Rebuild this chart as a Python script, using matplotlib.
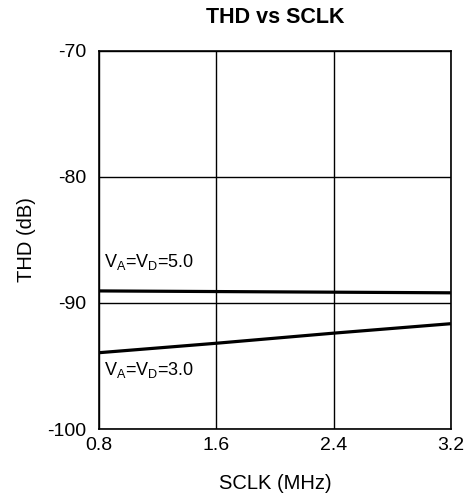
import numpy as np
import matplotlib
matplotlib.use('Agg')
import matplotlib.pyplot as plt

plt.rcParams['font.family'] = ['Liberation Sans', 'DejaVu Sans']
plt.rcParams['mathtext.fontset'] = 'custom'
plt.rcParams['mathtext.rm'] = 'Liberation Sans'

# 数据
sclk = [0.8, 1.6, 2.4, 3.2]
thd_5v = [-89.05, -89.1, -89.15, -89.2]
thd_3v = [-93.95, -93.2, -92.4, -91.65]
x_ticks = [0.8, 1.6, 2.4, 3.2]
y_ticks = [-100, -90, -80, -70]

fig = plt.figure(figsize=(4.77, 5.0), dpi=100)
ax = fig.add_axes([0.2075, 0.142, 0.7375, 0.7566])

ax.plot(sclk, thd_5v, color='black', linewidth=2.3, solid_capstyle='butt')
ax.plot(sclk, thd_3v, color='black', linewidth=2.3, solid_capstyle='butt')

ax.set_xlim(0.8, 3.2)
ax.set_ylim(-100, -70)
ax.set_xticks(x_ticks)
ax.set_xticklabels(['0.8', '1.6', '2.4', '3.2'])
ax.set_yticks(y_ticks)
ax.set_yticklabels(['-100', '-90', '-80', '-70'])
ax.tick_params(axis='both', length=0, labelsize=14)
ax.tick_params(axis='x', pad=6)
ax.tick_params(axis='y', pad=9)
ax.grid(True, color='black', linewidth=1.0)
for sp in ax.spines.values():
    sp.set_linewidth(1.2)

ax.text(0.834, -87.15, r'V$_\mathregular{A}$=V$_\mathregular{D}$=5.0', fontsize=13)
ax.text(0.834, -95.7, r'V$_\mathregular{A}$=V$_\mathregular{D}$=3.0', fontsize=13)

ax.set_xlabel('SCLK (MHz)', fontsize=14.5, labelpad=14)
ax.set_ylabel('THD (dB)', fontsize=14.5, labelpad=8)
ax.set_title('THD vs SCLK', fontsize=15.5, fontweight='bold', pad=20)

fig.savefig('out.png', dpi=100)
